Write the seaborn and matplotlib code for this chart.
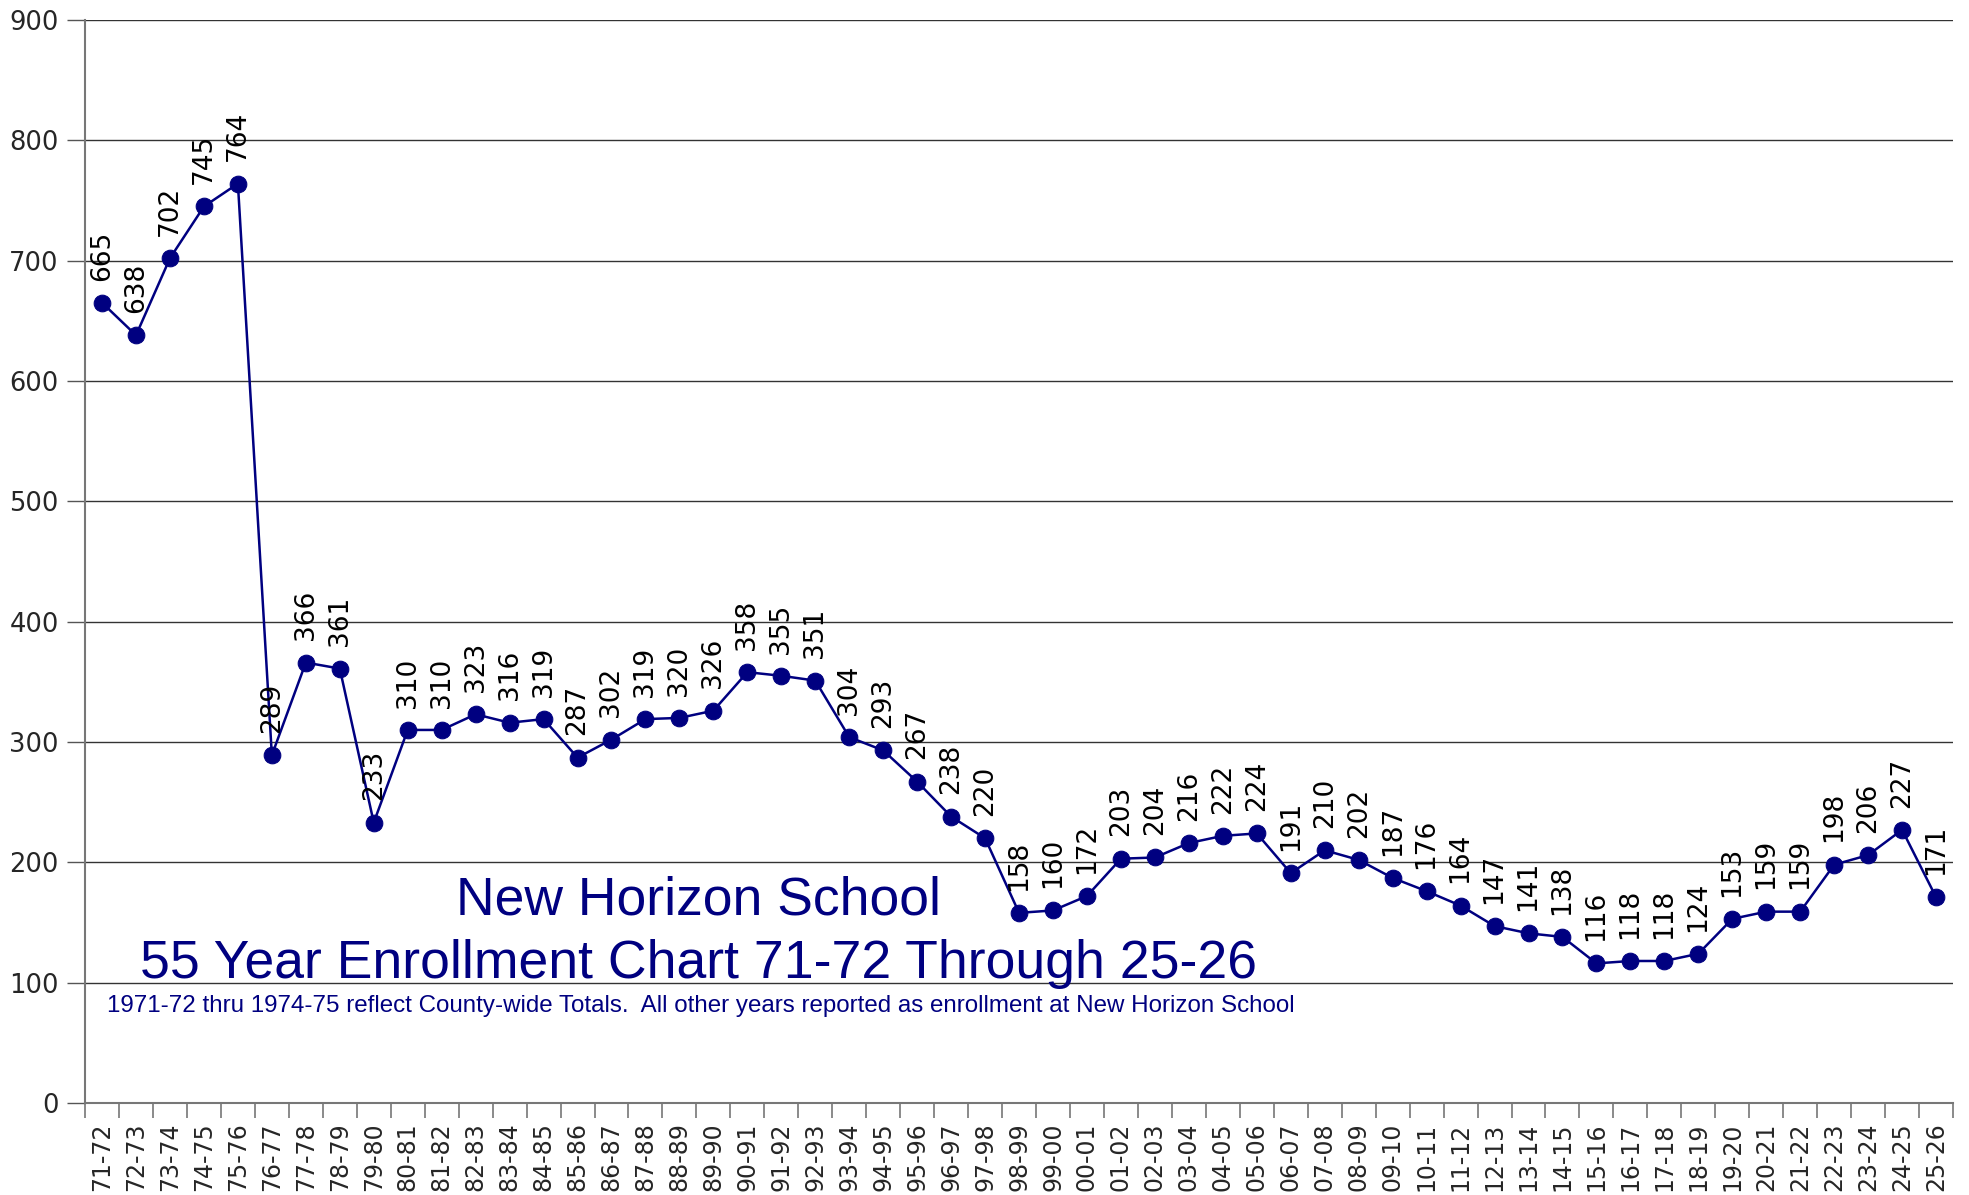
import numpy as np
import pandas as pd
import matplotlib
matplotlib.use("Agg")
import matplotlib.pyplot as plt
import seaborn as sns
from matplotlib.ticker import MultipleLocator, FixedLocator

# school years and enrollment counts
years = ["71-72", "72-73", "73-74", "74-75", "75-76", "76-77", "77-78", "78-79", "79-80",
         "80-81", "81-82", "82-83", "83-84", "84-85", "85-86", "86-87", "87-88", "88-89",
         "89-90", "90-91", "91-92", "92-93", "93-94", "94-95", "95-96", "96-97", "97-98",
         "98-99", "99-00", "00-01", "01-02", "02-03", "03-04", "04-05", "05-06", "06-07",
         "07-08", "08-09", "09-10", "10-11", "11-12", "12-13", "13-14", "14-15", "15-16",
         "16-17", "17-18", "18-19", "19-20", "20-21", "21-22", "22-23", "23-24", "24-25",
         "25-26"]
enrollment = [665, 638, 702, 745, 764, 289, 366, 361, 233,
              310, 310, 323, 316, 319, 287, 302, 319, 320,
              326, 358, 355, 351, 304, 293, 267, 238, 220,
              158, 160, 172, 203, 204, 216, 222, 224, 191,
              210, 202, 187, 176, 164, 147, 141, 138, 116,
              118, 118, 124, 153, 159, 159, 198, 206, 227,
              171]

title_line1 = "New Horizon School"
title_line2 = "55 Year Enrollment Chart 71-72 Through 25-26"
note = ("1971-72 thru 1974-75 reflect County-wide Totals.  "
        "All other years reported as enrollment at New Horizon School")

df = pd.DataFrame({"year": years, "enrollment": enrollment})

sns.set_style("white")
plt.rcParams["font.family"] = ["DejaVu Sans"]

navy = "#000080"
fig = plt.figure(figsize=(19.69, 11.95), dpi=100)
ax = fig.add_axes([0.0432, 0.077, 0.9487, 0.9063])

sns.lineplot(data=df, x="year", y="enrollment", ax=ax, color=navy, lw=1.8,
             marker="o", markersize=12, markeredgecolor=navy, sort=False)

n = len(years)
ax.set_xlim(-0.5, n - 0.5)
ax.set_ylim(0, 900)
ax.yaxis.set_major_locator(MultipleLocator(100))
ax.grid(axis="y", color="#333333", lw=1.0)
ax.grid(axis="x", visible=False)
ax.set_xlabel("")
ax.set_ylabel("")

# category labels at centres, tick marks at boundaries
ax.set_xticks(range(n))
ax.set_xticklabels(years, rotation=90, fontsize=17)
ax.tick_params(axis="x", which="major", length=0, pad=14)
ax.xaxis.set_minor_locator(FixedLocator(np.arange(-0.5, n, 1.0)))
ax.tick_params(axis="x", which="minor", length=11, width=1.2, color="#777777", bottom=True)
ax.tick_params(axis="y", length=13, width=1.0, color="#555555", left=True, labelsize=18.5, pad=6)

for s in ["top", "right"]:
    ax.spines[s].set_visible(False)
for s in ["left", "bottom"]:
    ax.spines[s].set_color("#777777")
    ax.spines[s].set_linewidth(1.5)

# rotated value labels above each point
for i, v in enumerate(enrollment):
    ax.annotate(str(v), (i, v), xytext=(0, 16), textcoords="offset points",
                rotation=90, ha="center", va="bottom", fontsize=19, color="black")

title_font = ["Liberation Sans", "DejaVu Sans"]
fig.text(0.355, 0.2345, title_line1, ha="center", va="baseline", fontsize=38.5,
         color=navy, family=title_font)
fig.text(0.355, 0.1816, title_line2, ha="center", va="baseline", fontsize=38.5,
         color=navy, family=title_font)
fig.text(0.0543, 0.1531, note, ha="left", va="baseline", fontsize=17.4,
         color=navy, family=["Liberation Sans Narrow", "Liberation Sans", "DejaVu Sans"])

fig.savefig("out.png", dpi=100, facecolor="white")
